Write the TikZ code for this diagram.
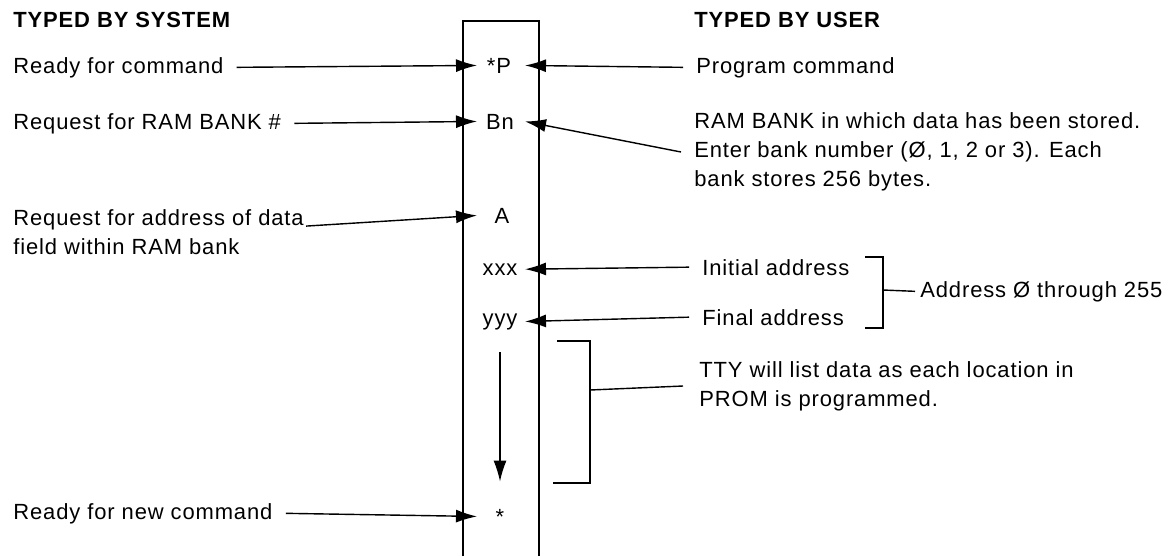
\documentclass[tikz,border=0pt]{standalone}
\usepackage{fontspec}
\setmainfont{Liberation Sans}[LetterSpace=4]
\usetikzlibrary{arrows.meta,positioning,calc}

\begin{document}
\begin{tikzpicture}[x=0.02cm, y=-0.02cm, font=\fontsize{12.5pt}{16.5pt}\selectfont]
    \tikzstyle{head} = [anchor=base west, inner sep=0pt, font=\fontsize{12.5pt}{16.5pt}\selectfont\bfseries]
    \tikzstyle{note} = [anchor=base west, inner sep=0pt, align=left]
    \tikzstyle{notes} = [anchor=west, inner sep=0pt, align=left]
    \tikzstyle{code} = [anchor=base, inner sep=0pt]
    \tikzstyle{arrow} = [draw, -{Latex[length=0.42cm,width=0.26cm]}, line width=0.8pt]
    \tikzstyle{brace} = [draw, line width=0.8pt]

    \useasboundingbox (0,0) rectangle (1173,556);

    % terminal column
    \draw[line width=1.3pt] (463,556) -- (463,21) -- (539,21) -- (539,556);
    \coordinate (inL) at (477,0);
    \coordinate (inR) at (525,0);

    \node[head] (hsys) at (13,27) {TYPED BY SYSTEM};
    \node[head] (husr) at (694,27) {TYPED BY USER};

    \node[code] (cP) at (499,73) {*P};
    \node[code] (cB) at (500,129) {Bn};
    \node[code] (cA) at (502,223) {A};
    \node[code] (cX) at (500,275) {xxx};
    \node[code] (cY) at (500,325) {yyy};
    \node[code] (cS) at (500,524) {*};

    \node[note] (sys1) at (13,73) {Ready for command};
    \node[note] (sys2) at (13,129) {Request for RAM BANK \#};
    \node[notes] (sys3) at (13,232) {Request for address of data\\field within RAM bank};
    \node[note] (sys4) at (13,519) {Ready for new command};

    \node[note] (usr1) at (696,73) {Program command};
    \node[notes] (usr2) at (694,152) {RAM BANK in which data has been stored.\\Enter bank number (Ø, 1, 2 or 3). Each\\bank stores 256 bytes.};
    \node[note] (usr3) at (702,275) {Initial address};
    \node[note] (usr4) at (702,325) {Final address};
    \node[note] (usr5) at (920,297) {Address Ø through 255};
    \node[notes] (usr6) at (699,386) {TTY will list data as each location in\\PROM is programmed.};

    \draw[arrow] ([xshift=0.26cm]sys1.east) -- (cP.west -| inL);
    \draw[arrow] ([xshift=0.26cm]sys2.east) -- (cB.west -| inL);
    \draw[arrow] ([xshift=0.04cm,yshift=-0.34cm]sys3.north east) -- (cA.west -| inL);
    \draw[arrow] ([xshift=0.26cm]sys4.east) -- (cS.west -| inL);

    \draw[arrow] ([xshift=-0.26cm]usr1.west) -- (cP.east -| inR);
    \draw[arrow] ([xshift=-0.26cm]usr2.west) -- (cB.east -| inR);
    \draw[arrow] ([xshift=-0.26cm]usr3.west) -- (cX.east -| inR);
    \draw[arrow] ([xshift=-0.26cm]usr4.west) -- (cY.east -| inR);

    \draw[brace] (865,257) -| (883,328) -- (865,328);
    \coordinate (b1m) at (883,290);
    \draw[brace] (b1m) -- ([xshift=-0.1cm]usr5.west);

    \draw[brace] (557,341) -| (590,483) -- (553,483);
    \coordinate (b2m) at (590,390);
    \draw[brace] (b2m) -- ([xshift=-0.32cm]usr6.west);

    \coordinate (flow) at (500,352);
    \draw[arrow, shorten >=0.54cm] (flow) -- (flow |- cS.north);
\end{tikzpicture}
\end{document}
